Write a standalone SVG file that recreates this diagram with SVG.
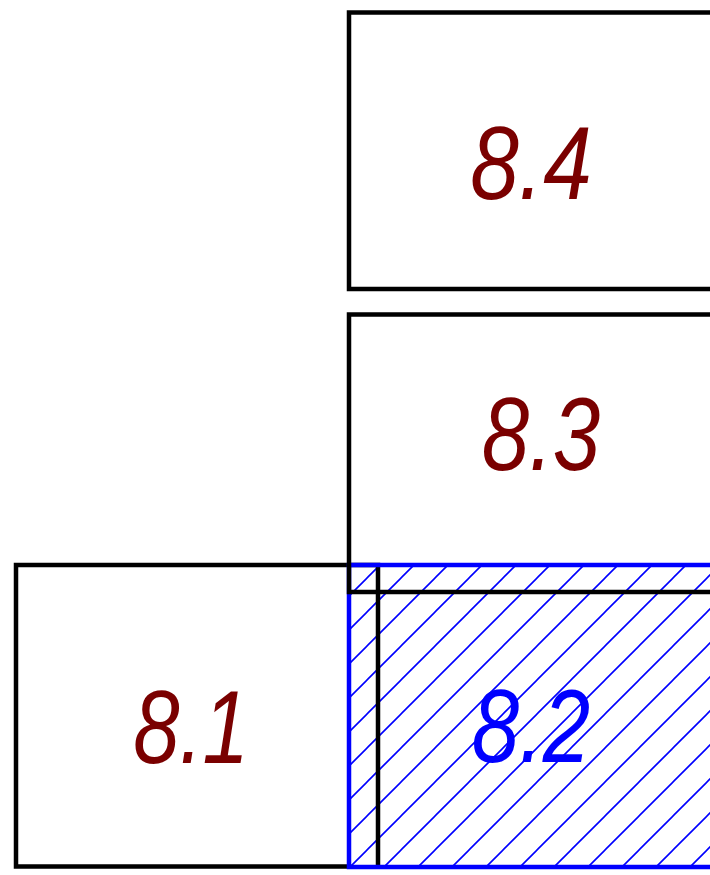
<svg xmlns="http://www.w3.org/2000/svg" width="710" height="875" viewBox="0 0 710 875">
<style>
.ln{stroke:#000;stroke-width:4.5;fill:none;stroke-linecap:square}
.bl{stroke:#0000ff;stroke-width:4.5;fill:none}
.lbl{font-family:"Liberation Sans",Arial,sans-serif;font-style:italic;font-size:104px;text-anchor:middle}
.red{fill:#7a0000}
.blue{fill:#0000ff}
</style>
<defs>
<pattern id="hatch" patternUnits="userSpaceOnUse" x="27" y="0" width="34" height="34">
<path d="M0,34 L34,0 M-5,5 L5,-5 M29,39 L39,29" stroke="#0000ff" stroke-width="1.6"/>
</pattern>
</defs>
<rect width="710" height="875" fill="#fff"/>
<g id="n82">
<rect x="349" y="565" width="370" height="302" fill="url(#hatch)"/>
</g>
<g id="n81">
<path class="ln" d="M349,866.5 H16 V565 H378 V864"/>
<text class="lbl red" transform="translate(191,763) scale(0.8,1)" x="0" y="0">8.1</text>
</g>
<g id="n82b">
<path class="bl" d="M720,565 H349 V867 H720"/>
<text class="lbl blue" transform="translate(531,762) scale(0.82,1)" x="0" y="0">8.2</text>
</g>
<g id="n83">
<path class="ln" d="M712,314.5 H349 V592 H712"/>
<text class="lbl red" transform="translate(541,470) scale(0.82,1)" x="0" y="0">8.3</text>
</g>
<g id="n84">
<path class="ln" d="M712,12.5 H349 V289 H712"/>
<text class="lbl red" transform="translate(531,199) scale(0.84,1)" x="0" y="0">8.4</text>
</g>
<g id="connectors"></g>
</svg>
